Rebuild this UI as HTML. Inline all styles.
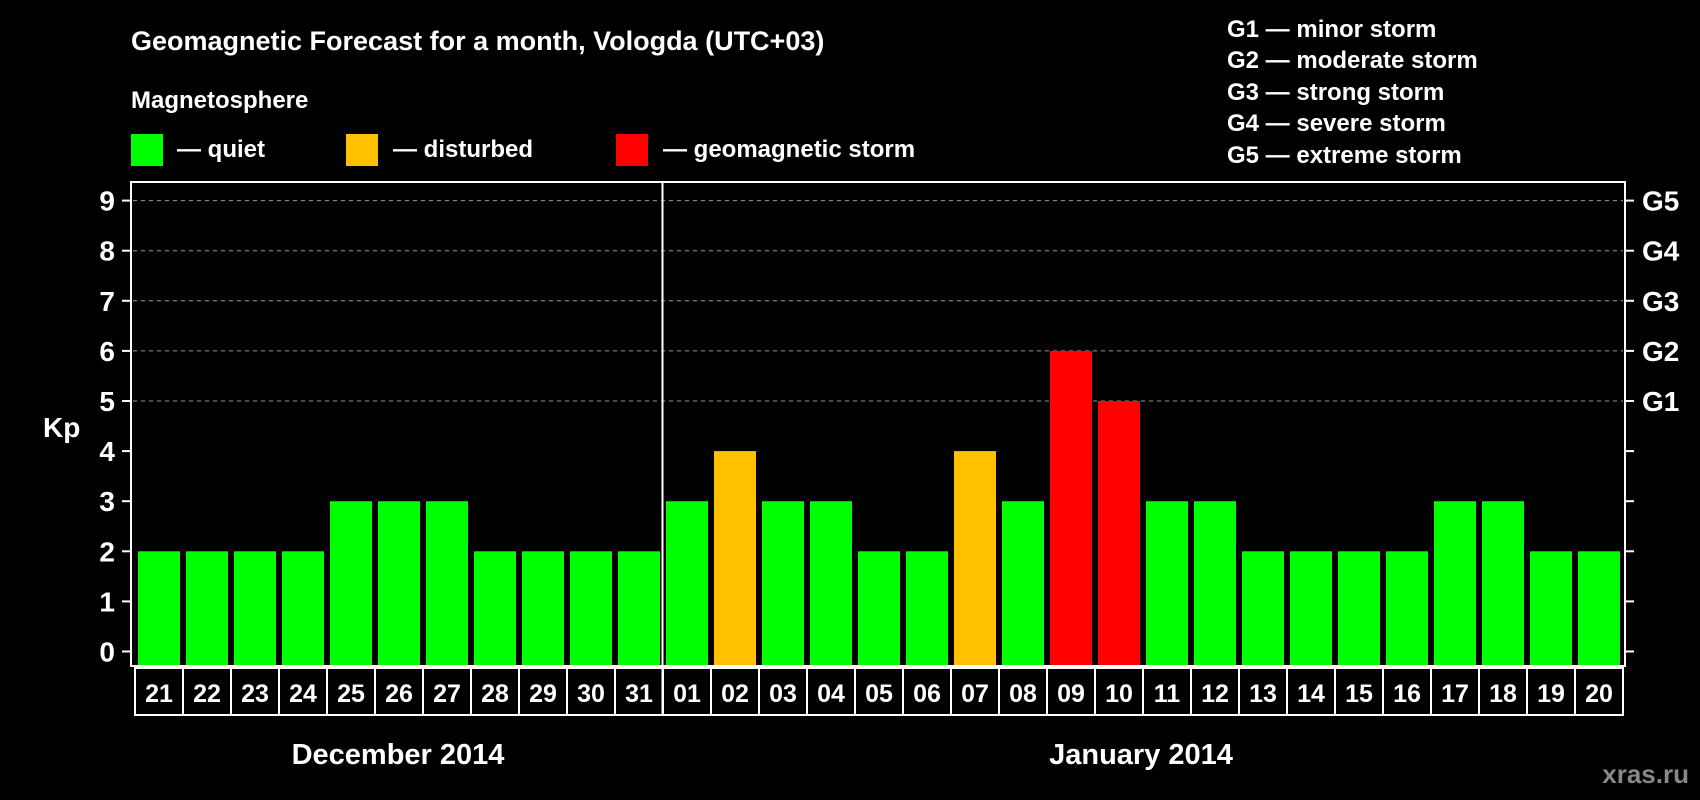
<!DOCTYPE html>
<html><head><meta charset="utf-8"><style>
html,body{margin:0;padding:0;background:#000;}
svg{display:block;font-family:"Liberation Sans",sans-serif;font-weight:bold;}
</style></head><body>
<svg id="chart" width="1700" height="800" viewBox="0 0 1700 800">
<rect width="1700" height="800" fill="#000"/>
<text x="131" y="50" fill="#fff" font-size="27">Geomagnetic Forecast for a month, Vologda (UTC+03)</text>
<text x="131" y="108" fill="#fff" font-size="24">Magnetosphere</text>
<g>
<rect x="131" y="134" width="32" height="32" fill="#00ff00"/>
<text x="177" y="157" fill="#fff" font-size="24">— quiet</text></g>
<g>
<rect x="346" y="134" width="32" height="32" fill="#ffc000"/>
<text x="393" y="157" fill="#fff" font-size="24">— disturbed</text></g>
<g>
<rect x="616" y="134" width="32" height="32" fill="#ff0000"/>
<text x="663" y="157" fill="#fff" font-size="24">— geomagnetic storm</text></g>
<g fill="#fff" font-size="24">
<text x="1227" y="37">G1 — minor storm</text>
<text x="1227" y="68">G2 — moderate storm</text>
<text x="1227" y="100">G3 — strong storm</text>
<text x="1227" y="131">G4 — severe storm</text>
<text x="1227" y="163">G5 — extreme storm</text>
</g>
<text x="43" y="437" fill="#fff" font-size="28">Kp</text>
<g id="grid"></g>
<g id="bars"></g>
<rect x="131" y="182" width="1494" height="484" fill="none" stroke="#fff" stroke-width="2"/>
<g id="ticks"></g>
<g id="days"></g>
<text x="398" y="764" fill="#fff" font-size="29" text-anchor="middle">December 2014</text>
<text x="1141" y="764" fill="#fff" font-size="29" text-anchor="middle">January 2014</text>
<text x="1689" y="783" fill="#888" font-size="26" text-anchor="end">xras.ru</text>
</svg>
<script>
const days = ["21","22","23","24","25","26","27","28","29","30","31","01","02","03","04","05","06","07","08","09","10","11","12","13","14","15","16","17","18","19","20"];
const kpValues = [2,2,2,2,3,3,3,2,2,2,2,3,4,3,3,2,2,4,3,6,5,3,3,2,2,2,2,3,3,2,2];
const yTicks = [0,1,2,3,4,5,6,7,8,9];
const gLabels = ["G1","G2","G3","G4","G5"];
const gLevels = [5,6,7,8,9];
const monthSplitIndex = 11;

const NS="http://www.w3.org/2000/svg";
const y0=651.5, unit=50.1, x0=138, step=48, bw=42;
const yS=v=>y0-v*unit;
const xS=i=>x0+i*step;
function mk(t,a,p){const e=document.createElementNS(NS,t);for(const k in a)e.setAttribute(k,a[k]);p.appendChild(e);return e;}
const grid=document.getElementById('grid'),bars=document.getElementById('bars'),ticks=document.getElementById('ticks'),dg=document.getElementById('days');
gLevels.forEach(v=>{
  const l=mk('line',{x1:133,x2:1623,y1:yS(v),y2:yS(v),stroke:'#999','stroke-width':1,'stroke-dasharray':'4,4'},grid);
  
  
});
kpValues.forEach((v,i)=>{
  const c=v>=5?'#ff0000':(v>=4?'#ffc000':'#00ff00');
  const r=mk('rect',{x:xS(i),y:yS(v),width:bw,height:666-yS(v),fill:c},bars);
  
  
});
yTicks.forEach(v=>{
  mk('line',{x1:122,x2:131,y1:yS(v),y2:yS(v),stroke:'#fff','stroke-width':2},ticks);
  mk('line',{x1:1625,x2:1634,y1:yS(v),y2:yS(v),stroke:'#fff','stroke-width':2},ticks);
  const t=mk('text',{x:115,y:yS(v)+10,fill:'#fff','font-size':28,'text-anchor':'end'},ticks);
  t.textContent=v;
  
  
});
gLabels.forEach((g,i)=>{
  const t=mk('text',{x:1642,y:yS(gLevels[i])+10,fill:'#fff','font-size':28},ticks);
  t.textContent=g;
  
  
});
const dx=monthSplitIndex*step+x0-3.5;
const dv=mk('line',{x1:dx,x2:dx,y1:182,y2:715,stroke:'#fff','stroke-width':2},ticks);


mk('rect',{x:135,y:668,width:1488,height:47,fill:'none',stroke:'#fff','stroke-width':2},dg);
days.forEach((d,i)=>{
  if(i>0) mk('line',{x1:xS(i)-3,x2:xS(i)-3,y1:668,y2:715,stroke:'#fff','stroke-width':2},dg);
  const t=mk('text',{x:xS(i)+bw/2,y:702,fill:'#fff','font-size':25,'text-anchor':'middle'},dg);
  t.textContent=d;
  
  
});
</script>
</body></html>
